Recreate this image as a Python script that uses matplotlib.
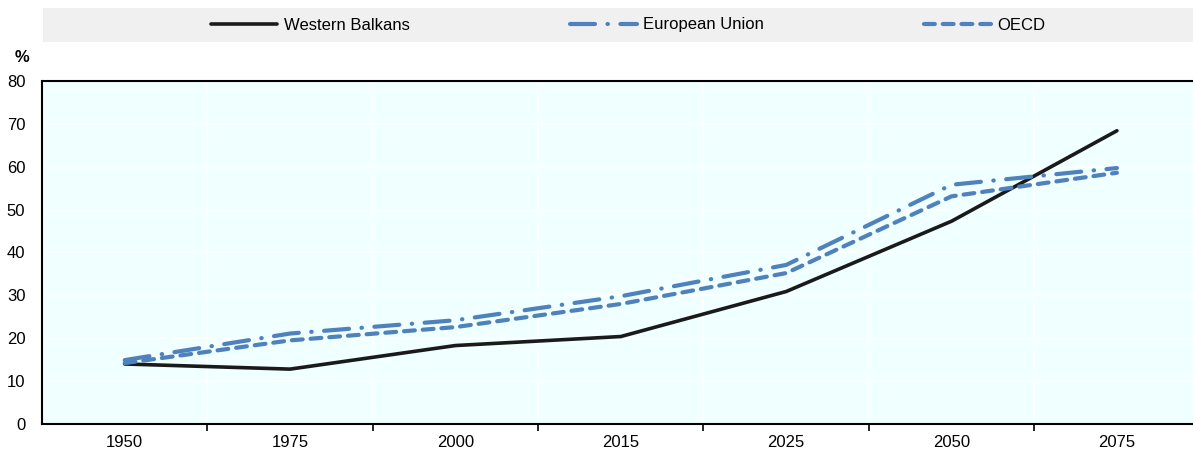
import matplotlib
matplotlib.use("Agg")
import matplotlib.pyplot as plt
from matplotlib.patches import Rectangle
from matplotlib import font_manager

years = ["1950", "1975", "2000", "2015", "2025", "2050", "2075"]
western_balkans = [14.0, 12.8, 18.3, 20.4, 30.9, 47.3, 68.4]
european_union = [14.9, 21.1, 24.2, 29.8, 37.1, 55.8, 59.7]
oecd = [14.2, 19.5, 22.6, 28.0, 35.2, 53.1, 58.6]
yticks = [0, 10, 20, 30, 40, 50, 60, 70, 80]

names = {f.name for f in font_manager.fontManager.ttflist}
fam = ["Liberation Sans Narrow"] if "Liberation Sans Narrow" in names else ["Liberation Sans"]
plt.rcParams["font.family"] = fam + ["DejaVu Sans"]

fig = plt.figure(figsize=(11.93, 4.5), dpi=100)
ax = fig.add_axes([42/1193, 26/450, 1 - 42/1193, (424-81)/450])
ax.set_facecolor("#f0ffff")

x = list(range(len(years)))
blue = "#4f81bd"
ax.plot(x, western_balkans, color="#1a1a1a", lw=2.6, solid_capstyle="round", label="Western Balkans", zorder=3)
ax.plot(x, european_union, color=blue, lw=3.0, dashes=(6, 3, 0.1, 3), dash_capstyle="round", label="European Union", zorder=3)
ax.plot(x, oecd, color=blue, lw=3.0, dashes=(2.6, 1.9), dash_capstyle="round", label="OECD", zorder=3)

ax.set_xlim(-0.5, 6.46)
ax.set_ylim(0, 80)
ax.set_yticks(yticks)
ax.set_xticks(x)
ax.set_xticklabels(years)
ax.set_xticks([i + 0.5 for i in range(6)], minor=True)
ax.tick_params(axis="x", which="major", length=0, pad=8, labelsize=12)
ax.tick_params(axis="x", which="minor", length=5, width=1.2, color="black")
ax.tick_params(axis="y", length=0, pad=12, labelsize=12)
ax.grid(False)
for v in yticks[1:-1]:
    ax.axhline(v, color="white", lw=1.2, zorder=1)
for i in range(6):
    ax.axvline(i + 0.5, color="white", lw=1.2, zorder=1)
for s in ["left", "bottom", "top"]:
    ax.spines[s].set_linewidth(1.5)
    ax.spines[s].set_color("black")
ax.spines["right"].set_visible(False)

fig.text(22/1193, 1 - 58/450, "%", fontsize=12, fontweight="bold", ha="center", va="center")

fig.patches.append(Rectangle((43/1193, 1 - 42/450), 1 - 43/1193, 34/450, transform=fig.transFigure,
                             facecolor="#f0f0f0", edgecolor="none", zorder=0))
leg = fig.legend(loc="center", bbox_to_anchor=(628/1193, 1 - 25/450), ncol=3, frameon=False,
                 fontsize=12, handlelength=4.0, handletextpad=0.4, columnspacing=9.6)

fig.savefig("out.png", dpi=100)
